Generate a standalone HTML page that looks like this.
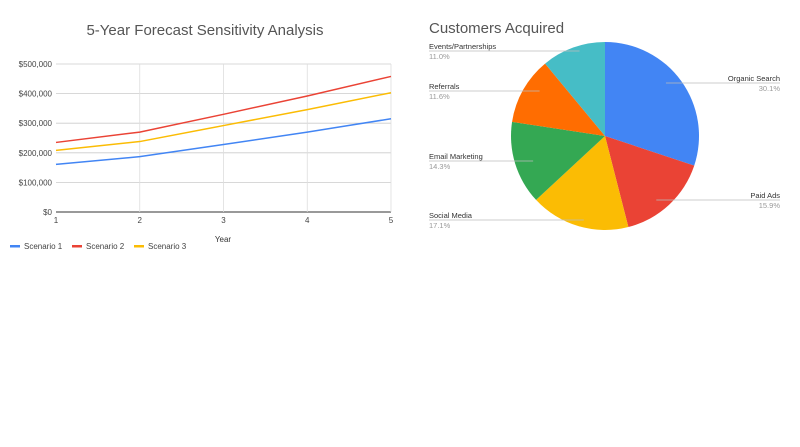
<!DOCTYPE html>
<html><head><meta charset="utf-8"><style>
body{margin:0;background:#fff;font-family:"Liberation Sans",Arial,sans-serif}
svg text{font-family:"Liberation Sans",Arial,sans-serif}
</style></head><body>
<svg id="c" width="800" height="442" xmlns="http://www.w3.org/2000/svg">
<text x="205" y="35" text-anchor="middle" font-size="15" fill="#555">5-Year Forecast Sensitivity Analysis</text>
<text x="429" y="33" font-size="15" fill="#555">Customers Acquired</text>
<g id="grid"></g><g id="lines"></g><g id="pie"></g>
<text x="223" y="242" text-anchor="middle" font-size="8" fill="#333">Year</text>
<g id="legend"></g>
</svg>
<script>
const years=[1,2,3,4,5];
const scenario1=[161000,187000,228000,270000,315000];
const scenario2=[235000,270000,330000,392000,458000];
const scenario3=[208000,238000,292000,346000,403000];
const yTicks=[0,100000,200000,300000,400000,500000];
const yTickLabels=["$0","$100,000","$200,000","$300,000","$400,000","$500,000"];
const seriesNames=["Scenario 1","Scenario 2","Scenario 3"];
const seriesColors=["#4285f4","#ea4335","#fbbc04"];
const pieLabels=["Organic Search","Paid Ads","Social Media","Email Marketing","Referrals","Events/Partnerships"];
const pieValues=[30.1,15.9,17.1,14.3,11.6,11.0];
const pieColors=["#4285f4","#ea4335","#fbbc04","#34a853","#ff6d01","#46bdc6"];
const NS="http://www.w3.org/2000/svg";
function mk(t,a,p){const e=document.createElementNS(NS,t);for(const k in a)e.setAttribute(k,a[k]);p.appendChild(e);return e;}
const X0=56,X1=391,Y0=212,Y1=64;
const xs=v=>X0+(v-1)/(4)*(X1-X0);
const ys=v=>Y0-v/500000*(Y0-Y1);
const g=document.getElementById('grid');
yTicks.forEach((t,i)=>{
 const l=mk('line',{x1:X0,x2:X1,y1:ys(t),y2:ys(t),stroke:i==0?'#333':'#ccc','stroke-width':i==0?1:0.8},g);
 
 const tx=mk('text',{x:X0-4,y:ys(t)+3,'text-anchor':'end','font-size':8,fill:'#444'},g);tx.textContent=yTickLabels[i];
 
});
years.forEach(y=>{
 if(y>1){const l=mk('line',{x1:xs(y),x2:xs(y),y1:Y1,y2:Y0,stroke:'#ddd','stroke-width':0.8},g);
 }
 const tx=mk('text',{x:xs(y),y:Y0+11,'text-anchor':'middle','font-size':8,fill:'#444'},g);tx.textContent=y;
 
});
const lg=document.getElementById('lines');
[scenario1,scenario2,scenario3].forEach((s,i)=>{
 const p=mk('polyline',{points:s.map((v,j)=>xs(years[j])+','+ys(v)).join(' '),fill:'none',stroke:seriesColors[i],'stroke-width':1.5},lg);
 
});
const leg=document.getElementById('legend');
const lx=[10,72,134];
seriesNames.forEach((n,i)=>{
 const r=mk('rect',{x:lx[i],y:245,width:10,height:2.5,fill:seriesColors[i]},leg);
 
 const t=mk('text',{x:lx[i]+14,y:249,'font-size':8,fill:'#444'},leg);t.textContent=n;
 
});
const pg=document.getElementById('pie');
const cx=605,cy=136,R=94;
const total=pieValues.reduce((a,b)=>a+b,0);
let a=0;
const labelPos=[[780,79,1],[780,196,1],[429,216,0],[429,157,0],[429,87,0],[429,47,0]];
pieValues.forEach((v,i)=>{
 const a0=a,a1=a+v/total*2*Math.PI;a=a1;
 const p0=[cx+R*Math.sin(a0),cy-R*Math.cos(a0)],p1=[cx+R*Math.sin(a1),cy-R*Math.cos(a1)];
 const path=mk('path',{d:`M${cx},${cy}L${p0[0]},${p0[1]}A${R},${R} 0 ${a1-a0>Math.PI?1:0} 1 ${p1[0]},${p1[1]}Z`,fill:pieColors[i]},pg);
 
 
 const am=(a0+a1)/2,ax=cx+R*0.8*Math.sin(am);
 const [lx2,ly,right]=labelPos[i];
 const ln=mk('line',{x1:ax,y1:ly+4,x2:lx2,y2:ly+4,stroke:'#bbb','stroke-width':0.8},pg);
 
 const t=mk('text',{x:lx2,y:ly+2,'font-size':7.5,fill:'#333','text-anchor':right?'end':'start'},pg);t.textContent=pieLabels[i];
 
 const t2=mk('text',{x:lx2,y:ly+12,'font-size':7.5,fill:'#999','text-anchor':right?'end':'start'},pg);t2.textContent=v.toFixed(1)+'%';
 
});
</script>
</body></html>
